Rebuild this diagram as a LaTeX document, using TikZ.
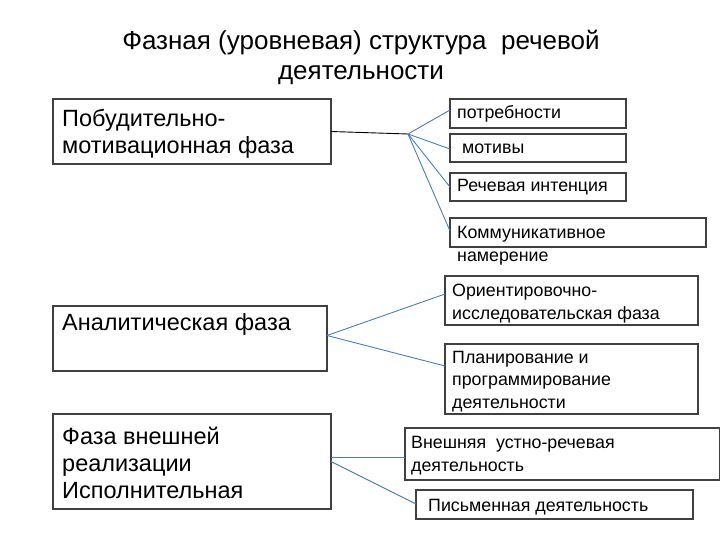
\documentclass[tikz,border=0pt]{standalone}
\usepackage{fontspec}
\setmainfont{Liberation Sans}
\begin{document}
\begin{tikzpicture}[x=1pt,y=-1pt,
  box/.style={draw=black!75, line width=1.1pt, anchor=north west, inner sep=0pt, outer sep=0pt},
  big/.style={anchor=base west, inner sep=0pt, align=left, font=\fontsize{23.5}{27}\selectfont},
  small/.style={anchor=base west, inner sep=0pt, align=left, font=\fontsize{17.8}{22.3}\selectfont},
  conn/.style={draw={rgb,255:red,74;green,126;blue,187}, line width=0.9pt},
  bconn/.style={draw=black, line width=0.9pt}]
\useasboundingbox (0,0) rectangle (720,540);
% title
\node[inner sep=0pt, align=center, font=\fontsize{26}{30}\selectfont] (title) at (361,57) {Фазная (уровневая) структура\ \ речевой\\деятельности};
% left boxes
\node[box, minimum width=278pt, minimum height=65pt] (b1) at (53,99) {};
\node[big] (t1) at (62,154) {Побудительно-\\мотивационная фаза};
\node[box, minimum width=274pt, minimum height=65pt] (b2) at (53,306) {};
\node[big] (t2) at (62,330) {Аналитическая фаза};
\node[box, minimum width=278pt, minimum height=95pt] (b3) at (53,414) {};
\node[big] (t3) at (62,498) {Фаза внешней\\реализации\\Исполнительная};
% right boxes
\node[box, minimum width=176pt, minimum height=29pt] (r1) at (450,99) {};
\node[small] (s1) at (457,119) {потребности};
\node[box, minimum width=176pt, minimum height=28pt] (r2) at (450,134) {};
\node[small] (s2) at (462,154) {мотивы};
\node[box, minimum width=176pt, minimum height=28pt] (r3) at (450,173) {};
\node[small] (s3) at (457,192) {Речевая интенция};
\node[box, minimum width=256pt, minimum height=29pt] (r4) at (450,218) {};
\node[small] (s4) at (457,261) {Коммуникативное\\намерение};
\node[box, minimum width=253pt, minimum height=49pt] (r5) at (445,276) {};
\node[small] (s5) at (452,319) {Ориентировочно-\\исследовательская фаза};
\node[box, minimum width=253pt, minimum height=70pt] (r6) at (445,344) {};
\node[small] (s6) at (452,408) {Планирование и\\программирование\\деятельности};
\node[box, minimum width=315pt, minimum height=52pt] (r7) at (405,428) {};
\node[small] (s7) at (411,471) {Внешняя\ \ устно-речевая\\деятельность};
\node[box, minimum width=277pt, minimum height=29pt] (r8) at (416,490) {};
\node[small] (s8) at (428,511) {Письменная деятельность};
% connectors
\coordinate (j1) at (408,134);
\draw[bconn] (b1.east) -- (j1);
\draw[conn] (j1) -- ([yshift=-11pt]r1.north west);
\draw[conn] (j1) -- ([yshift=-15pt]r2.north west);
\draw[conn] (j1) -- ([yshift=-14pt]r3.north west);
\draw[conn] (j1) -- ([yshift=-13pt]r4.north west);
\draw[conn] ([yshift=3pt]b2.east) -- ([yshift=-18pt]r5.north west);
\draw[conn] ([yshift=3pt]b2.east) -- ([yshift=-22pt]r6.north west);
\draw[conn] ([yshift=4pt]b3.east) -- ([yshift=4pt]b3.east -| r7.west);
\draw[conn] (b3.east) -- ([yshift=-14pt]r8.north west);
\end{tikzpicture}
\end{document}
